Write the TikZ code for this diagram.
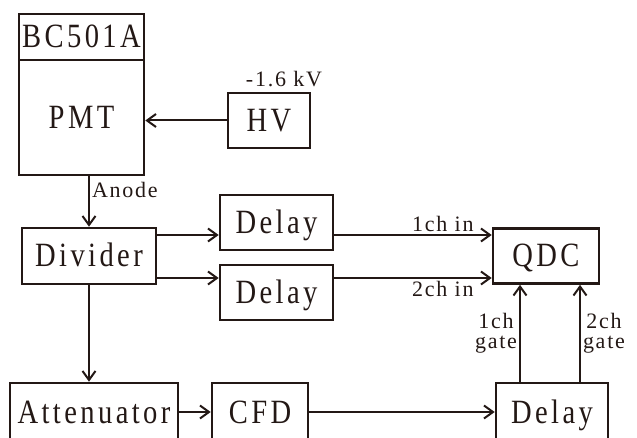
\documentclass[tikz,border=0pt]{standalone}
\usepackage{fontspec}
\setmainfont{Liberation Serif}[LetterSpace=8]
\newfontfamily\boxfont{Liberation Serif}[FakeStretch=0.84, LetterSpace=10]
\usepackage{tikz}
\usetikzlibrary{arrows.meta,positioning}
\definecolor{ink}{RGB}{35,24,21}

\begin{document}
\begin{tikzpicture}[x=1pt, y=-1pt,
  box/.style={draw=ink, line width=2.6pt, inner sep=0pt, text=ink,
    font=\boxfont\fontsize{34}{34}\selectfont, text height=25pt, text depth=3pt},
  lbl/.style={text=ink, inner sep=2pt, font=\fontsize{22}{20}\selectfont, align=center},
  arr/.style={draw=ink, line width=2pt, -{Straight Barb[length=9pt,width=13pt]}}]
  \clip (0,0) rectangle (637,438);

  % Detector and high voltage
  \node[box, minimum width=125pt, minimum height=46pt] (bc) at (81.5,37) {BC501A};
  \node[box, minimum width=125pt, minimum height=115pt] (pmt) at (81.5,117.5) {PMT};
  \node[box, minimum width=82pt, minimum height=55pt] (hv) at (269,120.5) {HV};
  \node[lbl] (hvv) at (284,79) {-1.6 kV};
  \draw[arr] (hv.west) -- (hv.west -| pmt.east);

  % Signal split
  \node[box, minimum width=134pt, minimum height=56pt] (div) at (89,256) {Divider};
  \draw[arr] (div.north |- pmt.south) -- node[lbl, pos=0.27, right] (anode) {Anode} (div.north);

  \coordinate (row1) at (0,235);
  \coordinate (row2) at (0,278);
  \node[box, minimum width=113pt, minimum height=55pt] (dl1) at (276.5,222.5) {Delay};
  \node[box, minimum width=113pt, minimum height=55pt] (dl2) at (276.5,292.5) {Delay};
  \node[box, minimum width=106pt, minimum height=55pt] (qdc) at (546,256) {QDC};
  \draw[arr] (div.east |- row1) -- (dl1.west |- row1);
  \draw[arr] (div.east |- row2) -- (dl2.west |- row2);
  \draw[arr] (dl1.east |- row1) -- node[lbl, pos=0.69, above] (in1) {1ch in} (qdc.west |- row1);
  \draw[arr] (dl2.east |- row2) -- node[lbl, pos=0.69, below] (in2) {2ch in} (qdc.west |- row2);

  % Gate branch
  \node[box, minimum width=168pt, minimum height=58pt] (att) at (94,412) {Attenuator};
  \node[box, minimum width=96pt, minimum height=58pt] (cfd) at (260,412) {CFD};
  \node[box, minimum width=112pt, minimum height=58pt] (dl3) at (552,412) {Delay};
  \draw[arr] (div.south) -- (div.south |- att.north);
  \draw[arr] (att.east) -- (cfd.west);
  \draw[arr] (cfd.east) -- (dl3.west);

  \coordinate (g1) at (520,0);
  \coordinate (g2) at (580,0);
  \draw[arr] (dl3.north -| g1) -- node[lbl, midway, left] (gate1) {1ch\\gate} (qdc.south -| g1);
  \draw[arr] (dl3.north -| g2) -- node[lbl, midway, right] (gate2) {2ch\\gate} (qdc.south -| g2);
\end{tikzpicture}
\end{document}
